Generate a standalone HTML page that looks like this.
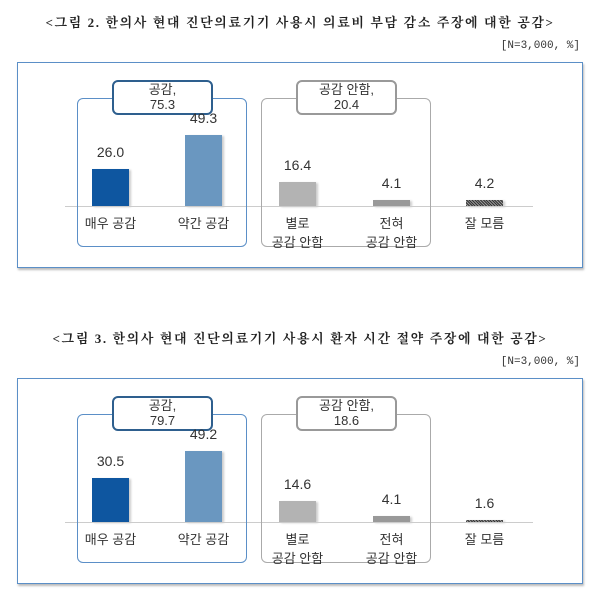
<!DOCTYPE html>
<html><head><meta charset="utf-8"><style>
body{margin:0;width:600px;height:604px;background:#fff;position:relative;font-family:"Liberation Sans","Noto Sans CJK KR",sans-serif;overflow:hidden}
.a{position:absolute}
.t{font-family:"Liberation Serif","Noto Serif CJK SC",serif;font-weight:bold;font-size:13px;left:0;width:600px;text-align:center;color:#222;letter-spacing:1.6px}
.n{font-family:"Liberation Mono","Noto Sans CJK KR",monospace;font-size:11px;right:20px;color:#333}
.frame{border:1.5px solid #5b8fc7;box-shadow:1px 2px 2px #bbb}
.c{text-align:center;font-size:13px;color:#333;line-height:19px}
.box{border-radius:6px}
.lab{background:#fff;border-radius:6px;font-size:13px;text-align:center;line-height:15px;color:#333}
</style></head><body>
<div id="c1" class="a" style="left:0;top:0;width:600px;height:300px"></div>
<div id="c2" class="a" style="left:0;top:316px;width:600px;height:300px"></div>
<script>
function draw(el,title,tot1,tot2,v){
 var h='';
 h+='<div class="a t" style="top:12px">'+title+'</div>';
 h+='<div class="a n" style="top:40px">[N=3,000, %]</div>';
 h+='<div class="a frame" style="left:17px;top:62px;width:564px;height:204px"></div>';
 h+='<div class="a" style="left:65px;top:206px;width:468px;height:1px;background:#ccc"></div>';
 h+='<div class="a box" style="left:77px;top:98px;width:168px;height:147px;border:1.5px solid #5b8fc7"></div>';
 h+='<div class="a box" style="left:261px;top:98px;width:168px;height:147px;border:1.5px solid #aaa"></div>';
 h+='<div class="a lab" style="left:112px;top:80px;width:97px;height:31px;border:2px solid #2e5f8e">'+tot1+'</div>';
 h+='<div class="a lab" style="left:296px;top:80px;width:97px;height:31px;border:2px solid #999">'+tot2+'</div>';
 var xs=[92,185,279,373,466],cols=['#0e56a0','#6a97c0','#b3b3b3','#999','repeating-linear-gradient(45deg,#333 0 1px,#999 1px 2px)'];
 var cats=['매우 공감','약간 공감','별로<br>공감 안함','전혀<br>공감 안함','잘 모름'];
 for(var i=0;i<5;i++){
  var hh=Math.max(2,v[i]*1.44);
  h+='<div class="a" style="left:'+xs[i]+'px;top:'+(206-hh)+'px;width:37px;height:'+hh+'px;background:'+cols[i]+';box-shadow:2px 1px 2px #ccc"></div>';
  h+='<div class="a c" style="left:'+(xs[i]-20)+'px;width:77px;top:'+(206-hh-26)+'px;font-size:14px">'+v[i].toFixed(1)+'</div>';
  h+='<div class="a c" style="left:'+(xs[i]-30)+'px;width:97px;top:214px">'+cats[i]+'</div>';
 }
 el.innerHTML=h;
}
draw(document.getElementById('c1'),'&lt;그림 2. 한의사 현대 진단의료기기 사용시 의료비 부담 감소 주장에 대한 공감&gt;','공감,<br>75.3','공감 안함,<br>20.4',[26.0,49.3,16.4,4.1,4.2]);
draw(document.getElementById('c2'),'&lt;그림 3. 한의사 현대 진단의료기기 사용시 환자 시간 절약 주장에 대한 공감&gt;','공감,<br>79.7','공감 안함,<br>18.6',[30.5,49.2,14.6,4.1,1.6]);
</script>
</body></html>
